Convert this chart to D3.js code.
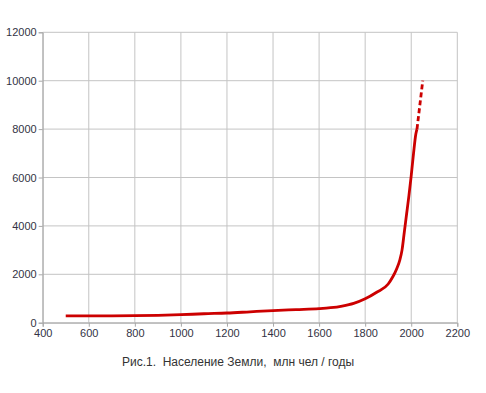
<!DOCTYPE html>
<html><head><meta charset="utf-8">
<script src="https://cdn.jsdelivr.net/npm/d3@7"></script>
<style>html,body{margin:0;padding:0;background:#fff;}svg{display:block;}</style>
</head><body>
<script>
const years = [500, 600, 700, 800, 900, 1000, 1100, 1200, 1300, 1400, 1500, 1600, 1650, 1700, 1750, 1800, 1850, 1900, 1920, 1930, 1940, 1950, 1960, 1970, 1980, 1990, 2000, 2010, 2020, 2025];
const population = [280, 282, 286, 292, 305, 330, 370, 400, 450, 500, 540, 580, 620, 690, 800, 990, 1260, 1600, 1900, 2080, 2300, 2580, 3000, 3750, 4500, 5250, 6080, 7000, 7800, 8000];
const forecastYears = [2025, 2050];
const forecastValues = [8000, 10000];
const xTicks = [400, 600, 800, 1000, 1200, 1400, 1600, 1800, 2000, 2200];
const yTicks = [0, 2000, 4000, 6000, 8000, 10000, 12000];
const caption = "Рис.1.  Население Земли,  млн чел / годы";

const W = 486, H = 393;
const m = {left: 42.7, right: 486 - 457.3, top: 32.3, bottom: 393 - 322.7};
const svg = d3.select("body").append("svg").attr("width", W).attr("height", H);
const x = d3.scaleLinear().domain([400, 2200]).range([m.left, W - m.right]);
const y = d3.scaleLinear().domain([0, 12000]).range([H - m.bottom, m.top]);

const grid = svg.append("g");
grid.selectAll("line.v").data(xTicks).join("line")
  .attr("x1", d => x(d)).attr("x2", d => x(d)).attr("y1", y(0)).attr("y2", y(12000))
  .attr("stroke", "#c4c4c4").attr("stroke-width", 1);
grid.selectAll("line.h").data(yTicks).join("line")
  .attr("x1", x(400)).attr("x2", x(2200)).attr("y1", d => y(d)).attr("y2", d => y(d))
  .attr("stroke", "#c4c4c4").attr("stroke-width", 1);

const font = "'Liberation Sans', Arial, sans-serif";
const xAxis = svg.append("g").attr("transform", `translate(0,${y(0)})`)
  .call(d3.axisBottom(x).tickValues(xTicks).tickSize(4).tickPadding(3).tickFormat(d3.format("d")));
const yAxis = svg.append("g").attr("transform", `translate(${x(400)},0)`)
  .call(d3.axisLeft(y).tickValues(yTicks).tickSize(4).tickPadding(2).tickFormat(d3.format("d")));
[xAxis, yAxis].forEach(a => {
  a.select(".domain").attr("stroke", "#a8a8a8");
  a.selectAll(".tick line").attr("stroke", "#a8a8a8");
  a.selectAll("text").attr("fill", "#333344").style("font-family", font).style("font-size", "11px");
});

const line = d3.line().x(d => x(d[0])).y(d => y(d[1])).curve(d3.curveMonotoneX);
svg.append("path").datum(years.map((d, i) => [d, population[i]]))
  .attr("d", line).attr("fill", "none").attr("stroke", "#cc0000").attr("stroke-width", 2.8)
  .attr("stroke-linejoin", "round");
svg.append("path").datum(forecastYears.map((d, i) => [d, forecastValues[i]]))
  .attr("d", d3.line().x(d => x(d[0])).y(d => y(d[1])))
  .attr("fill", "none").attr("stroke", "#cc0000").attr("stroke-width", 2.8)
  .attr("stroke-dasharray", "5,3");

svg.append("text").attr("x", 238).attr("y", 366).attr("text-anchor", "middle")
  .style("font-family", font).style("font-size", "12px").style("white-space", "pre")
  .attr("xml:space", "preserve").attr("fill", "#333")
  .text(caption);
</script>
</body></html>
